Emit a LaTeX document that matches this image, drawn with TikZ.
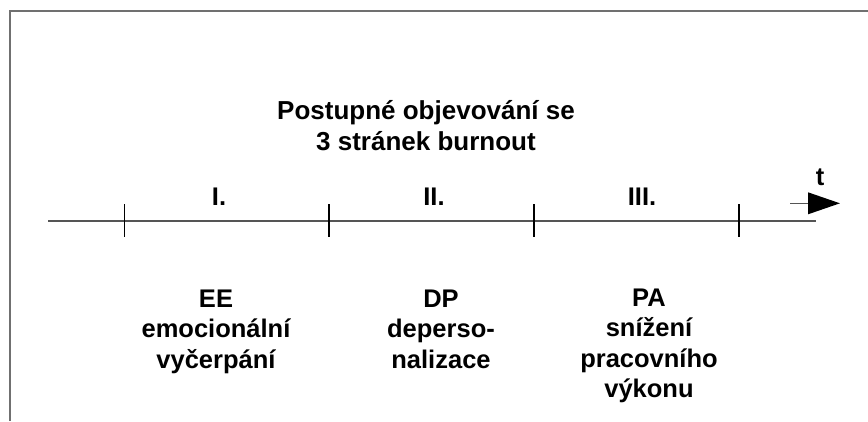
\documentclass[tikz,border=0pt]{standalone}
\usepackage{fontspec}
\setmainfont{Liberation Sans}
\usetikzlibrary{arrows.meta}
\definecolor{axisgray}{HTML}{555555}
\definecolor{framegray}{HTML}{707070}
\begin{document}
\begin{tikzpicture}[x=1pt,y=-1pt,
  lbl/.style={font=\fontsize{25.5}{30.5}\selectfont\bfseries, align=center, anchor=base, inner sep=0pt},
  tickline/.style={black, line width=1.3pt},
  axisline/.style={axisgray, line width=1.6pt},
  frameline/.style={framegray, line width=2pt}]
\useasboundingbox (0,0) rectangle (868,421);
% frame
\coordinate (fA) at (9.5,421);
\coordinate (fB) at (9.5,11);
\coordinate (fC) at (868,11);
\draw[frameline] (fA) -- (fB) -- (fC);
% title (base = last line)
\node[lbl, font=\fontsize{26}{31}\selectfont\bfseries] (title) at (426,150) {Postupné objevování se\\3 stránek burnout};
% axis
\coordinate (a0) at (48,220.7);
\coordinate (a1) at (816,220.7);
\draw[axisline] (a0) -- (a1);
% ticks
\foreach \x/\n in {124.5/t1,329/t2,534/t3,739/t4}{
  \coordinate (\n top) at (\x,204);
  \coordinate (\n bot) at (\x,237);
  \draw[tickline] (\n top) -- (\n bot);
}
% arrow
\coordinate (arS) at (790,203.3);
\coordinate (arE) at (840,203.3);
\draw[axisline,-{Triangle[length=32pt,width=21.6pt,black]}] (arS) -- (arE);
\node[lbl] (tlab) at (820,185) {t};
% phase labels
\node[lbl] (p1) at (219,205) {I.};
\node[lbl] (p2) at (434,205) {II.};
\node[lbl] (p3) at (642,205) {III.};
% descriptions (base = last line)
\node[lbl] (d1) at (216,368) {EE\\emocionální\\vyčerpání};
\node[lbl] (d2) at (441,368) {DP\\deperso-\\nalizace};
\node[lbl] (d3) at (649,397.5) {PA\\snížení\\pracovního\\výkonu};
\end{tikzpicture}
\end{document}
